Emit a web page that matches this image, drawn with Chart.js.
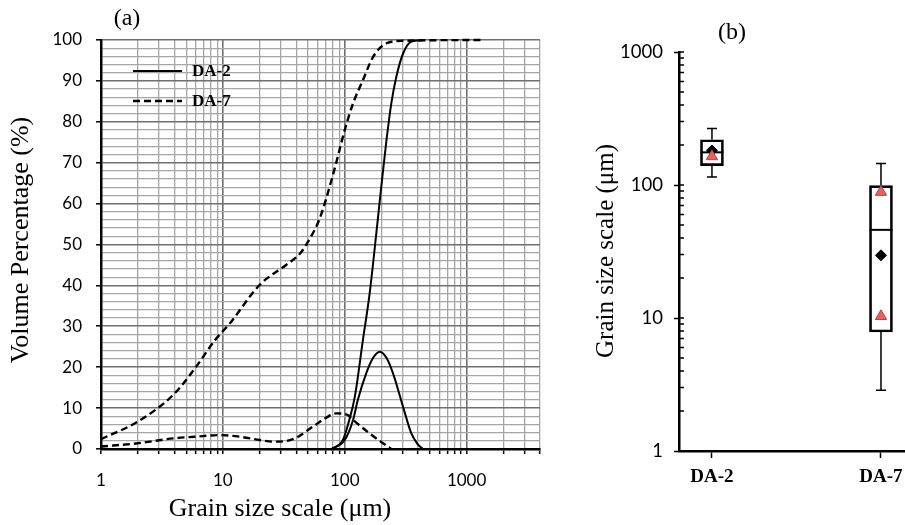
<!DOCTYPE html>
<html>
<head>
<meta charset="utf-8">
<script src="https://cdn.jsdelivr.net/npm/chart.js@4.4.0/dist/chart.umd.min.js"></script>
<style>
  body { margin: 0; background: #fff; }
  #wrap { position: relative; width: 905px; height: 525px; overflow: hidden; }
  #left { position: absolute; left: 0; top: 0; }
  #right { position: absolute; left: 560px; top: 0; }
</style>
</head>
<body>
<div id="wrap">
  <canvas id="left" width="560" height="525"></canvas>
  <canvas id="right" width="400" height="525"></canvas>
</div>
<script>
// (a) grain size distributions: size in um, volume in %
var da2CumSize  = [78, 96.5, 109, 121, 141, 160, 182, 200, 220, 241, 265, 301, 352, 440];
var da2CumPct   = [0, 2.2, 7.1, 12.8, 26.7, 38, 53, 64.5, 75.5, 84.5, 91, 96.7, 99.6, 100];
var da2FreqSize = [78, 100, 117, 128, 150, 170, 194, 221, 249, 301, 352, 396, 438];
var da2FreqPct  = [0, 2.2, 7.1, 12, 18.5, 22.2, 23.8, 22.2, 18.5, 10.3, 3.8, 1.2, 0];
var da7CumSize  = [1, 2, 3.9, 5.9, 8.6, 11.4, 20, 33, 43, 50, 62, 80, 100, 117, 141, 171, 220, 300, 1300];
var da7CumPct   = [2.4, 6.7, 13.2, 19.7, 26.6, 30.7, 40.1, 45, 47.8, 50.7, 56.2, 67, 78, 84.5, 90.2, 95.9, 99.2, 99.8, 100];
var da7FreqSize = [1, 2, 3.9, 5.9, 9.5, 13.8, 20, 26, 37.6, 55, 70, 85, 106, 117, 160, 206, 241];
var da7FreqPct  = [0.6, 1.4, 2.6, 3.0, 3.4, 3.0, 2.2, 1.8, 2.4, 5.5, 7.6, 8.7, 8.3, 7.1, 3.8, 1.4, 0];
var sizeTickLabels = [1, 10, 100, 1000];
var pctTickLabels = [0, 10, 20, 30, 40, 50, 60, 70, 80, 90, 100];

// (b) box plot of grain size per sample, um
var samples   = ['DA-2', 'DA-7'];
var boxLow    = [115, 2.86];
var boxQ1     = [140, 7.85];
var boxMedian = [176, 46];
var boxQ3     = [219, 99];
var boxHigh   = [266, 145];
var boxMean   = [182, 29.6];
var triSample = ['DA-2', 'DA-7', 'DA-7'];
var triValue  = [164, 88.5, 10.3];
var boxTickLabels = [1, 10, 100, 1000];

var serif = '"Liberation Serif", "Times New Roman", serif';
var sans = 'Lato, "Open Sans", sans-serif';
var gridMajor = '#707070';
var gridMinor = '#a6a6a6';

function pts(xs, ys) {
  return xs.map(function(x, i) { return { x: x, y: ys[i] }; });
}

// 1..9 x every decade between min and max
function logTicks(min, max) {
  var out = [];
  for (var p = 1; p <= max; p *= 10) {
    for (var m = 1; m <= 9; m++) {
      var v = m * p;
      if (v >= min && v <= max) out.push({ value: v });
    }
  }
  return out;
}

function isDecade(v) {
  var l = Math.log10(v);
  return Math.abs(l - Math.round(l)) < 1e-9;
}

var panelA = {
  id: 'panelA',
  afterDraw: function(chart) {
    var ctx = chart.ctx;
    var ds = chart.data.datasets;
    ctx.save();
    ctx.fillStyle = '#000';
    ctx.textBaseline = 'middle';
    ctx.textAlign = 'center';
    ctx.font = '24px ' + serif;
    ctx.fillText('(a)', 127, 19);
    ctx.font = '26px ' + serif;
    ctx.fillText('Grain size scale (\u03bcm)', 280, 509);
    ctx.save();
    ctx.translate(21, 240);
    ctx.rotate(-Math.PI / 2);
    ctx.fillText('Volume Percentage (%)', 0, 0);
    ctx.restore();

    // legend inside the plot, one entry per sample
    var rows = [ds[0], ds[2]];
    rows.forEach(function(d, i) {
      var y = 71 + i * 30;
      ctx.beginPath();
      ctx.strokeStyle = d.borderColor;
      ctx.lineWidth = d.borderWidth;
      ctx.setLineDash(d.borderDash || []);
      ctx.moveTo(133, y);
      ctx.lineTo(182, y);
      ctx.stroke();
      ctx.setLineDash([]);
      ctx.textAlign = 'left';
      ctx.font = 'bold 17px ' + serif;
      ctx.fillText(d.label, 192, y + 1);
    });
    ctx.restore();
  }
};

var solid = { borderColor: '#000', borderWidth: 2, pointRadius: 0, fill: false,
  cubicInterpolationMode: 'monotone', clip: 4 };
var dashed = Object.assign({}, solid, { borderWidth: 2.4, borderDash: [7, 4] });

new Chart(document.getElementById('left'), {
  type: 'line',
  data: {
    datasets: [
      Object.assign({ label: 'DA-2', data: pts(da2CumSize, da2CumPct) }, solid),
      Object.assign({ label: 'DA-2', data: pts(da2FreqSize, da2FreqPct) }, solid),
      Object.assign({ label: 'DA-7', data: pts(da7CumSize, da7CumPct) }, dashed),
      Object.assign({ label: 'DA-7', data: pts(da7FreqSize, da7FreqPct) }, dashed)
    ]
  },
  options: {
    responsive: false,
    animation: false,
    devicePixelRatio: 1,
    layout: { padding: { top: 40, right: 20, left: 0, bottom: 0 } },
    plugins: { legend: { display: false }, tooltip: { enabled: false } },
    scales: {
      x: {
        type: 'logarithmic',
        min: 1,
        max: 4000,
        afterBuildTicks: function(s) { s.ticks = logTicks(1, 4000); },
        afterFit: function(s) { s.height = 76; },
        ticks: {
          autoSkip: false, maxRotation: 0, padding: 16, color: '#000',
          font: { family: sans, size: 17 },
          callback: function(v) { return sizeTickLabels.indexOf(v) >= 0 ? String(v) : ''; }
        },
        grid: {
          color: function(c) {
            if (!c.tick || c.tick.value === 1) return 'transparent';
            return isDecade(c.tick.value) ? gridMajor : gridMinor;
          },
          lineWidth: function(c) { return c.tick && isDecade(c.tick.value) ? 1.6 : 1.3; },
          tickLength: 5, tickColor: '#000', tickWidth: 1.5
        },
        border: { color: '#000', width: 2.5 }
      },
      y: {
        type: 'linear',
        min: 0,
        max: 100,
        afterBuildTicks: function(s) {
          var t = [];
          for (var v = 0; v <= 100; v += 2) t.push({ value: v });
          s.ticks = t;
        },
        afterFit: function(s) { s.width = 101; },
        ticks: {
          autoSkip: false, padding: 14, color: '#000',
          font: { family: sans, size: 17 },
          callback: function(v) { return pctTickLabels.indexOf(v) >= 0 ? String(v) : ''; }
        },
        grid: {
          color: function(c) {
            if (!c.tick || c.tick.value === 0) return 'transparent';
            return c.tick.value % 10 === 0 ? gridMajor : gridMinor;
          },
          lineWidth: function(c) { return c.tick && c.tick.value % 10 === 0 ? 1.6 : 1.3; },
          tickLength: 5,
          tickColor: function(c) { return c.tick && c.tick.value % 10 === 0 ? '#000' : 'transparent'; },
          tickWidth: 1.5
        },
        border: { color: '#000', width: 2.5 }
      }
    }
  },
  plugins: [panelA]
});

// whiskers, medians, inner minor ticks and labels for the box plot
var panelB = {
  id: 'panelB',
  beforeDatasetsDraw: function(chart) {
    var ctx = chart.ctx, xs = chart.scales.x, ys = chart.scales.y;
    ctx.save();
    ctx.strokeStyle = '#000';
    samples.forEach(function(s, i) {
      var x = xs.getPixelForValue(i + 1);
      ctx.lineWidth = 1.5;
      ctx.beginPath();
      ctx.moveTo(x, ys.getPixelForValue(boxLow[i]));
      ctx.lineTo(x, ys.getPixelForValue(boxQ1[i]));
      ctx.moveTo(x, ys.getPixelForValue(boxQ3[i]));
      ctx.lineTo(x, ys.getPixelForValue(boxHigh[i]));
      ctx.moveTo(x - 5, ys.getPixelForValue(boxLow[i]));
      ctx.lineTo(x + 5, ys.getPixelForValue(boxLow[i]));
      ctx.moveTo(x - 5, ys.getPixelForValue(boxHigh[i]));
      ctx.lineTo(x + 5, ys.getPixelForValue(boxHigh[i]));
      ctx.stroke();
      ctx.lineWidth = 2;
      ctx.beginPath();
      ctx.moveTo(x - 11.5, ys.getPixelForValue(boxMedian[i]));
      ctx.lineTo(x + 11.5, ys.getPixelForValue(boxMedian[i]));
      ctx.stroke();
    });
    ctx.restore();
  },
  afterDraw: function(chart) {
    var ctx = chart.ctx, ys = chart.scales.y, left = chart.chartArea.left;
    ctx.save();
    ctx.strokeStyle = '#000';
    ctx.lineWidth = 1.5;
    ctx.beginPath();
    ys.ticks.forEach(function(t) {
      var y = ys.getPixelForValue(t.value);
      ctx.moveTo(left, y);
      ctx.lineTo(left + 5, y);
    });
    ctx.stroke();
    ctx.fillStyle = '#000';
    ctx.textAlign = 'center';
    ctx.textBaseline = 'middle';
    ctx.font = '24px ' + serif;
    ctx.fillText('(b)', 172, 33);
    ctx.font = '25px ' + serif;
    ctx.translate(46, 251);
    ctx.rotate(-Math.PI / 2);
    ctx.fillText('Grain size scale (\u03bcm)', 0, 0);
    ctx.restore();
  }
};

new Chart(document.getElementById('right'), {
  type: 'scatter',
  data: {
    datasets: [
      {
        type: 'scatter',
        label: 'marker',
        order: 0,
        data: triSample.map(function(s, i) { return { x: samples.indexOf(s) + 1, y: triValue[i] }; }),
        pointStyle: 'triangle',
        pointRadius: 6.5,
        backgroundColor: '#e4625f',
        borderColor: '#b8403d',
        borderWidth: 1
      },
      {
        type: 'scatter',
        label: 'mean',
        order: 1,
        data: boxMean.map(function(v, i) { return { x: i + 1, y: v }; }),
        pointStyle: 'rectRot',
        pointRadius: 5.5,
        backgroundColor: '#000',
        borderColor: '#000'
      },
      {
        type: 'bar',
        label: 'box',
        order: 2,
        data: samples.map(function(s, i) { return { x: i + 1, y: [boxQ1[i], boxQ3[i]] }; }),
        backgroundColor: 'rgba(0,0,0,0)',
        borderColor: '#000',
        borderWidth: 2,
        borderSkipped: false,
        barThickness: 23
      }
    ]
  },
  options: {
    responsive: false,
    animation: false,
    devicePixelRatio: 1,
    layout: { autoPadding: false, padding: { top: 52, right: 0, left: 0, bottom: 0 } },
    plugins: { legend: { display: false }, tooltip: { enabled: false } },
    scales: {
      x: {
        type: 'linear',
        offset: false,
        min: 0.805,
        max: 2.4675,
        afterBuildTicks: function(s) {
          s.ticks = samples.map(function(n, i) { return { value: i + 1 }; });
        },
        afterFit: function(s) { s.height = 74; },
        ticks: {
          autoSkip: false, maxRotation: 0, padding: 8, color: '#000',
          font: { family: serif, size: 19, weight: 'bold' },
          callback: function(v) { return samples[v - 1] || ''; }
        },
        grid: { offset: false, drawOnChartArea: false, tickLength: 7, tickColor: '#000', tickWidth: 1.5 },
        border: { color: '#000', width: 2.5 }
      },
      y: {
        type: 'logarithmic',
        min: 1,
        max: 1000,
        afterBuildTicks: function(s) { s.ticks = logTicks(1, 1000); },
        afterFit: function(s) { s.width = 119; },
        ticks: {
          autoSkip: false, padding: 11, color: '#000',
          font: { family: sans, size: 18.5 },
          callback: function(v) { return boxTickLabels.indexOf(v) >= 0 ? String(v) : ''; }
        },
        grid: {
          drawOnChartArea: false, tickLength: 5, tickWidth: 1.5,
          tickColor: function(c) { return c.tick && isDecade(c.tick.value) ? '#000' : 'transparent'; }
        },
        border: { color: '#000', width: 2.5 }
      }
    }
  },
  plugins: [panelB]
});
</script>
</body>
</html>
